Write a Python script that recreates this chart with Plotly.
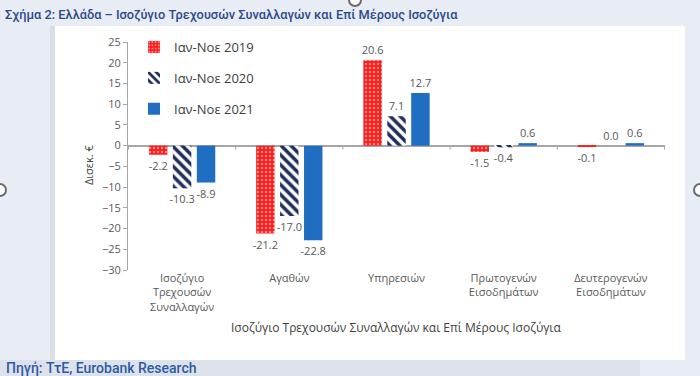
import plotly.graph_objects as go

categories = ["Ισοζύγιο<br>Τρεχουσών<br>Συναλλαγών", "Αγαθών", "Υπηρεσιών",
              "Πρωτογενών<br>Εισοδημάτων", "Δευτερογενών<br>Εισοδημάτων"]
series_names = ["Ιαν-Νοε 2019", "Ιαν-Νοε 2020", "Ιαν-Νοε 2021"]
values_2019 = [-2.2, -21.2, 20.6, -1.5, -0.1]
values_2020 = [-10.3, -17.0, 7.1, -0.4, 0.0]
values_2021 = [-8.9, -22.8, 12.7, 0.6, 0.6]
y_ticks = [25, 20, 15, 10, 5, 0, -5, -10, -15, -20, -25, -30]

W, H = 700, 376
L, R, T, B = 128, 35, 42, 106
PW, PH = W - L - R, H - T - B

def px_x(px):
    return (px - L) / PW

def px_y(py):
    return (H - B - py) / PH

FONT = "Open Sans"
LABEL_GRAY = "#595959"

fig = go.Figure()

styles = [
    dict(color="#ff1a1a", pattern=dict(shape=".", fillmode="overlay", fgcolor="white", size=4, solidity=0.3)),
    dict(color="#1f2d5c", pattern=dict(shape="\\", fillmode="replace", fgcolor="#1f2d5c", bgcolor="white", size=7, solidity=0.5)),
    dict(color="#1f6ec2"),
]

for i, (name, vals) in enumerate(zip(series_names, [values_2019, values_2020, values_2021])):
    fig.add_trace(go.Bar(
        x=categories, y=vals, name=name,
        marker=dict(line=dict(width=0), **styles[i]),
        texttemplate="%{y:.1f}", textposition="outside", constraintext="none",
        textfont=dict(family=FONT, size=11, color=LABEL_GRAY),
        cliponaxis=False, legendgroup=str(i),
    ))

shapes = []
# background panels
shapes.append(dict(type="rect", xref="paper", yref="paper", layer="below",
                   x0=px_x(0), x1=px_x(W), y0=px_y(H), y1=px_y(0),
                   fillcolor="#e8ecf4", line=dict(width=0)))
shapes.append(dict(type="rect", xref="paper", yref="paper", layer="below",
                   x0=px_x(0), x1=px_x(640), y0=px_y(H), y1=px_y(360),
                   fillcolor="#dde2ea", line=dict(width=0)))
shapes.append(dict(type="rect", xref="paper", yref="paper", layer="below",
                   x0=px_x(50), x1=px_x(55), y0=px_y(360), y1=px_y(26),
                   fillcolor="#d9dee7", line=dict(width=0)))
shapes.append(dict(type="rect", xref="paper", yref="paper", layer="below",
                   x0=px_x(55), x1=px_x(685), y0=px_y(360), y1=px_y(26),
                   fillcolor="white", line=dict(width=0)))
# category boundary ticks on the zero line
for k in range(len(categories) + 1):
    shapes.append(dict(type="line", xref="x", yref="y", ysizemode="pixel", yanchor=0,
                       x0=k - 0.5, x1=k - 0.5, y0=0, y1=-4,
                       line=dict(color="#a6a6a6", width=1)))
# selection handles
for cx, cy in [(0, 190), (700, 190), (355, 0)]:
    shapes.append(dict(type="circle", xref="paper", yref="paper",
                       x0=px_x(cx - 6), x1=px_x(cx + 6), y0=px_y(cy + 6), y1=px_y(cy - 6),
                       fillcolor="white", line=dict(color="#6b6b6b", width=2)))

annotations = [
    dict(text="Σχήμα 2: Ελλάδα – Ισοζύγιο Τρεχουσών Συναλλαγών και Επί Μέρους Ισοζύγια",
         xref="paper", yref="paper", x=px_x(3), y=px_y(15), xanchor="left", yanchor="middle",
         showarrow=False, font=dict(family="Roboto", size=12.8, color="#2c4a8c", weight=500)),
    dict(text="Πηγή: ΤτΕ, Eurobank Research",
         xref="paper", yref="paper", x=px_x(4), y=px_y(368), xanchor="left", yanchor="middle",
         showarrow=False, font=dict(family="Roboto", size=14, color="#2d5aa6", weight=500)),
    dict(text="Δισεκ. €", textangle=-90,
         xref="paper", yref="paper", x=px_x(88), y=px_y(165), xanchor="center", yanchor="middle",
         showarrow=False, font=dict(family=FONT, size=11, color="#404040")),
    dict(text="Ισοζύγιο Τρεχουσών Συναλλαγών και Επί Μέρους Ισοζύγια",
         xref="paper", yref="paper", x=px_x(396), y=px_y(327), xanchor="center", yanchor="middle",
         showarrow=False, font=dict(family=FONT, size=12, color="#404040")),
]

fig.update_layout(
    width=W, height=H,
    margin=dict(l=L, r=R, t=T, b=B),
    paper_bgcolor="#e8ecf4", plot_bgcolor="rgba(0,0,0,0)",
    barmode="group", bargap=0.33, bargroupgap=0.23,
    font=dict(family=FONT, color=LABEL_GRAY),
    showlegend=True,
    legend=dict(x=px_x(134), y=px_y(32), xanchor="left", yanchor="top",
                bgcolor="rgba(0,0,0,0)", tracegroupgap=11, itemwidth=30,
                font=dict(family=FONT, size=13, color="#404040")),
    shapes=shapes, annotations=annotations,
    xaxis=dict(showline=False, ticks="", showgrid=False, zeroline=False,
               tickfont=dict(family=FONT, size=11, color=LABEL_GRAY)),
    yaxis=dict(range=[-30, 25], tickvals=y_ticks, showgrid=False,
               showline=True, linecolor="#a6a6a6", linewidth=1,
               ticks="outside", ticklen=4, tickcolor="#a6a6a6",
               zeroline=True, zerolinecolor="#a6a6a6", zerolinewidth=1.5,
               tickfont=dict(family=FONT, size=11, color=LABEL_GRAY)),
)

fig.write_html("out.html", config={"displayModeBar": False},
               post_script="document.body.style.margin='0';document.body.style.overflow='hidden';")
